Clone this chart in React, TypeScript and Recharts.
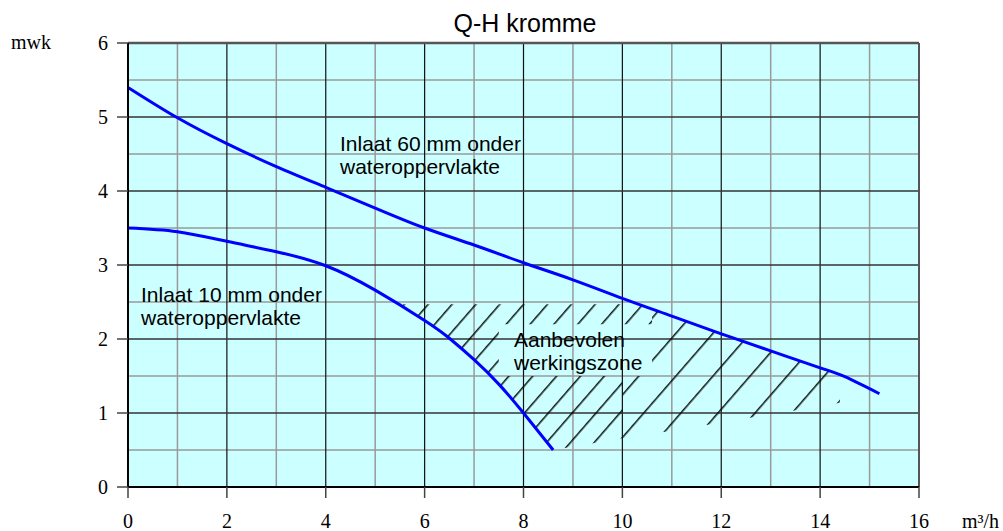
import React from "react";
import {
  ComposedChart,
  Line,
  Area,
  XAxis,
  YAxis,
  CartesianGrid,
  ReferenceLine,
} from "recharts";

// ---- data ----
const xTicks = [0, 2, 4, 6, 8, 10, 12, 14, 16];
const yTicks = [0, 1, 2, 3, 4, 5, 6];
const xMinor = [1, 3, 5, 7, 9, 11, 13, 15];
const xMajor = [2, 4, 6, 8, 10, 12, 14];
const yMinor = [0.5, 1.5, 2.5, 3.5, 4.5, 5.5];
const yMajor = [1, 2, 3, 4, 5];

// Inlaat 60 mm onder wateroppervlakte
const upperQ = [0, 1, 2, 3, 4, 5, 6, 7, 8, 9, 10, 11, 12, 13, 14, 14.5, 15.2];
const upperH = [5.4, 4.99, 4.64, 4.33, 4.05, 3.77, 3.5, 3.27, 3.03, 2.8, 2.55, 2.31, 2.07, 1.84, 1.61, 1.49, 1.26];

// Inlaat 10 mm onder wateroppervlakte
const lowerQ = [0, 1, 2, 3, 4, 5, 6, 6.5, 7, 7.5, 8, 8.6];
const lowerH = [3.5, 3.45, 3.32, 3.18, 2.99, 2.66, 2.25, 2.01, 1.72, 1.39, 1.0, 0.5];

// Aanbevolen werkingszone (hatched), split around the label
const zoneLeftQ = [5.5, 6, 6.5, 7, 7.5];
const zoneLeftLow = [2.47, 2.25, 2.01, 1.72, 1.39];
const zoneLeftHigh = [2.47, 2.47, 2.47, 2.47, 2.47];

const zoneTopQ = [7.5, 10.35, 10.6];
const zoneTopLow = [2.2, 2.2, 2.2];
const zoneTopHigh = [2.47, 2.47, 2.41];

const zoneBottomQ = [7.5, 8, 8.6, 10.0];
const zoneBottomLow = [1.39, 1.0, 0.5, 0.66];
const zoneBottomHigh = [1.5, 1.5, 1.5, 1.5];

const zoneRightQ = [10.0, 10.6, 10.6, 11, 12, 13, 14, 14.4];
const zoneRightLow = [0.66, 0.72, 0.72, 0.76, 0.87, 0.98, 1.09, 1.14];
const zoneRightHigh = [1.5, 1.5, 2.41, 2.31, 2.07, 1.84, 1.61, 1.52];

const upperData = upperQ.map((q, i) => ({ q, h: upperH[i] }));
const lowerData = lowerQ.map((q, i) => ({ q, h: lowerH[i] }));
const mkZone = (qs: number[], lo: number[], hi: number[]) =>
  qs.map((q, i) => ({ q, range: [lo[i], hi[i]] }));
const zoneLeft = mkZone(zoneLeftQ, zoneLeftLow, zoneLeftHigh);
const zoneTop = mkZone(zoneTopQ, zoneTopLow, zoneTopHigh);
const zoneBottom = mkZone(zoneBottomQ, zoneBottomLow, zoneBottomHigh);
const zoneRight = mkZone(zoneRightQ, zoneRightLow, zoneRightHigh);

const serif = "'Liberation Serif', 'Times New Roman', serif";
const sans = "'Liberation Sans', Arial, sans-serif";

export default function App() {
  return (
    <div style={{ position: "absolute", left: 0, top: 0, width: 1003, height: 531, background: "#fff" }}>
      <svg width={0} height={0} style={{ position: "absolute" }}>
        <defs>
          <pattern id="hatchDense" patternUnits="userSpaceOnUse" width={18} height={18} patternTransform="rotate(41)">
            <line x1={0.8} y1={0} x2={0.8} y2={18} stroke="#000" strokeWidth={1.4} />
          </pattern>
          <pattern id="hatchSparse" patternUnits="userSpaceOnUse" width={28} height={28} patternTransform="rotate(41)">
            <line x1={0.8} y1={0} x2={0.8} y2={28} stroke="#000" strokeWidth={1.4} />
          </pattern>
        </defs>
      </svg>
      <ComposedChart width={1003} height={531} margin={{ top: 43, right: 84, bottom: 0, left: 0 }}>
        <CartesianGrid fill="#ccffff" stroke="none" horizontal={false} vertical={false} />
        <XAxis
          type="number"
          dataKey="q"
          domain={[0, 16]}
          ticks={xTicks}
          interval={0}
          allowDataOverflow
          height={44}
          tickSize={11}
          tickMargin={16}
          axisLine={{ stroke: "#000", strokeWidth: 2 }}
          tickLine={{ stroke: "#444", strokeWidth: 1.5 }}
          tick={{ fontFamily: serif, fontSize: 20, fill: "#000" }}
        />
        <YAxis
          type="number"
          domain={[0, 6]}
          ticks={yTicks}
          interval={0}
          allowDataOverflow
          width={128}
          tickSize={11}
          tickMargin={9}
          axisLine={{ stroke: "#000", strokeWidth: 2 }}
          tickLine={{ stroke: "#444", strokeWidth: 1.5 }}
          tick={{ fontFamily: serif, fontSize: 20, fill: "#000" }}
        />
        {xMinor.map((v) => (
          <ReferenceLine key={"xm" + v} x={v} stroke="#9a9a9a" strokeWidth={1.5} zIndex={-50} />
        ))}
        {yMinor.map((v) => (
          <ReferenceLine key={"ym" + v} y={v} stroke="#9a9a9a" strokeWidth={1.5} zIndex={-50} />
        ))}
        {xMajor.map((v) => (
          <ReferenceLine key={"xM" + v} x={v} stroke="#111" strokeWidth={1.2} zIndex={-40} />
        ))}
        {yMajor.map((v) => (
          <ReferenceLine key={"yM" + v} y={v} stroke="#333" strokeWidth={1.5} zIndex={-40} />
        ))}
        <ReferenceLine y={6} stroke="#555" strokeWidth={2.5} zIndex={-40} />
        <ReferenceLine x={16} stroke="#555" strokeWidth={2} zIndex={-40} />
        <Area data={zoneLeft} dataKey="range" type="linear" stroke="none" fill="url(#hatchDense)" fillOpacity={1} isAnimationActive={false} />
        <Area data={zoneTop} dataKey="range" type="linear" stroke="none" fill="url(#hatchDense)" fillOpacity={1} isAnimationActive={false} />
        <Area data={zoneBottom} dataKey="range" type="linear" stroke="none" fill="url(#hatchDense)" fillOpacity={1} isAnimationActive={false} />
        <Area data={zoneRight} dataKey="range" type="linear" stroke="none" fill="url(#hatchSparse)" fillOpacity={1} isAnimationActive={false} />
        <Line data={upperData} dataKey="h" type="natural" stroke="#0000ff" strokeWidth={3} dot={false} activeDot={false} isAnimationActive={false} />
        <Line data={lowerData} dataKey="h" type="natural" stroke="#0000ff" strokeWidth={3} dot={false} activeDot={false} isAnimationActive={false} />
      </ComposedChart>
      <svg width={1003} height={531} style={{ position: "absolute", left: 0, top: 0, pointerEvents: "none" }}>
        <text x={525} y={32} textAnchor="middle" fontFamily={sans} fontSize={25} fill="#000">Q-H kromme</text>
        <text x={11} y={49} fontFamily={serif} fontSize={20} fill="#000">mwk</text>
        <text x={962} y={528} fontFamily={serif} fontSize={20} fill="#000">m³/h</text>
        <text fontFamily={sans} fontSize={21} fill="#000">
          <tspan x={340} y={151}>Inlaat 60 mm onder</tspan>
          <tspan x={340} y={174}>wateroppervlakte</tspan>
        </text>
        <text fontFamily={sans} fontSize={21} fill="#000">
          <tspan x={141} y={302}>Inlaat 10 mm onder</tspan>
          <tspan x={141} y={325}>wateroppervlakte</tspan>
        </text>
        <text fontFamily={sans} fontSize={21} fill="#000">
          <tspan x={514} y={347}>Aanbevolen</tspan>
          <tspan x={514} y={370}>werkingszone</tspan>
        </text>
      </svg>
    </div>
  );
}
